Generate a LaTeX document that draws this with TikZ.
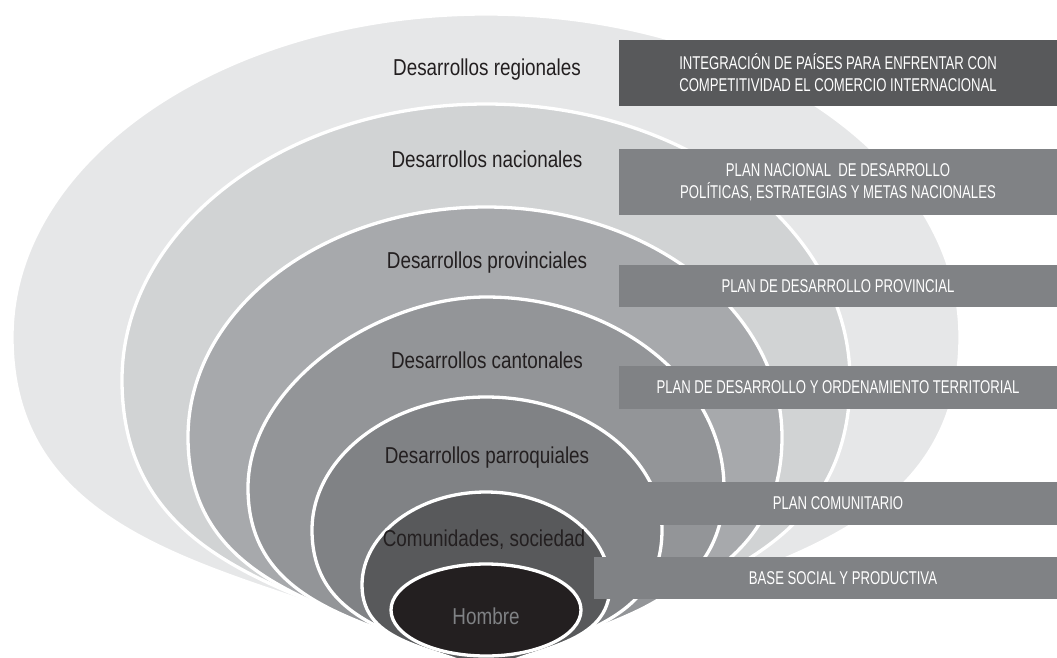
\documentclass[tikz,border=0pt]{standalone}
\usepackage{fontspec}
\setmainfont{Liberation Sans}
\newfontfamily\layerfont{Liberation Sans}[FakeStretch=0.82]
\newfontfamily\planfont{Liberation Sans}[FakeStretch=0.71]
\definecolor{ring1}{HTML}{E6E7E8}
\definecolor{ring2}{HTML}{D1D3D4}
\definecolor{ring3}{HTML}{A7A9AC}
\definecolor{ring4}{HTML}{939598}
\definecolor{ring5}{HTML}{808285}
\definecolor{ring6}{HTML}{58595B}
\definecolor{ring7}{HTML}{231F20}
\begin{document}
\begin{tikzpicture}[x=1pt, y=-1pt,
        layer/.style={draw=white, line width=3.3pt},
        layerlabel/.style={text=ring7, inner sep=0pt, font=\layerfont\fontsize{23}{27}\selectfont},
        planbox/.style={fill=ring5, text=white, minimum width=438pt, inner sep=0pt, align=center,
            font=\planfont\fontsize{18.5}{22}\selectfont},
    ]
    \useasboundingbox (0,0) rectangle (1057,657);
    \begin{scope}
        \clip (0,0) rectangle (1057,657);
        % rings, outside in
        \filldraw[layer, fill=ring1] (12,337) .. controls (12,159) and (224,14) .. (486,14)
            .. controls (748,14) and (960,159) .. (960,337)
            .. controls (960,572) and (674,572) .. (486,672)
            .. controls (298,572) and (12,572) .. cycle;
        \filldraw[layer, fill=ring2] (122,380) .. controls (122,228) and (285,104) .. (486,104)
            .. controls (687,104) and (850,228) .. (850,380)
            .. controls (850,584) and (631,595) .. (486,672)
            .. controls (341,595) and (122,584) .. cycle;
        \filldraw[layer, fill=ring3] (188,437) .. controls (188,310) and (322,207) .. (486,207)
            .. controls (649,207) and (782,310) .. (782,437)
            .. controls (782,601) and (604,609) .. (486,672)
            .. controls (368,609) and (188,601) .. cycle;
        \filldraw[layer, fill=ring4] (248,488) .. controls (248,383) and (379,297) .. (486,297)
            .. controls (617,297) and (724,383) .. (724,488)
            .. controls (724,617) and (580,622) .. (486,672)
            .. controls (392,622) and (248,617) .. cycle;
        \filldraw[layer, fill=ring5] (312,530) .. controls (312,457) and (390,397) .. (486,397)
            .. controls (583,397) and (662,457) .. (662,530)
            .. controls (662,629) and (556,635) .. (486,672)
            .. controls (417,635) and (312,629) .. cycle;
        \filldraw[layer, fill=ring6] (362,585) .. controls (362,534) and (418,492) .. (486,492)
            .. controls (554,492) and (610,534) .. (610,585)
            .. controls (610,646) and (535,646) .. (486,672)
            .. controls (437,646) and (362,646) .. cycle;
        \filldraw[layer, fill=ring7] (486,610) ellipse [x radius=95, y radius=46];
    \end{scope}

    % plans
    \node[planbox, fill=ring6, minimum height=66pt] (p1) at (838,73)
        {INTEGRACIÓN DE PAÍSES PARA ENFRENTAR CON\\COMPETITIVIDAD EL COMERCIO INTERNACIONAL};
    \node[planbox, minimum height=66pt] (p2) at (838,182)
        {PLAN NACIONAL\ \ DE DESARROLLO\\POLÍTICAS, ESTRATEGIAS Y METAS NACIONALES};
    \node[planbox, minimum height=42pt] (p3) at (838,286) {PLAN DE DESARROLLO PROVINCIAL};
    \node[planbox, minimum height=43pt] (p4) at (838,387.5) {PLAN DE DESARROLLO Y ORDENAMIENTO TERRITORIAL};
    \node[planbox, minimum height=43pt] (p5) at (838,503.5) {PLAN COMUNITARIO};
    \node[planbox, minimum height=42pt, minimum width=463pt] (p6) at (825.5,578)
        {\hspace*{35pt}BASE SOCIAL Y PRODUCTIVA};

    % levels
    \node[layerlabel] (regional) at (487,70) {Desarrollos regionales};
    \node[layerlabel] (nacional) at (487,159) {Desarrollos nacionales};
    \node[layerlabel, anchor=base] (provincial) at (487,268) {Desarrollos provinciales};
    \node[layerlabel] (cantonal) at (487,360) {Desarrollos cantonales};
    \node[layerlabel, anchor=base] (parroquial) at (487,463) {Desarrollos parroquiales};
    \node[layerlabel, anchor=base] (comunidad) at (484,546) {Comunidades, sociedad};
    \node[layerlabel, text=ring5] (hombre) at (486,616) {Hombre};
\end{tikzpicture}
\end{document}
